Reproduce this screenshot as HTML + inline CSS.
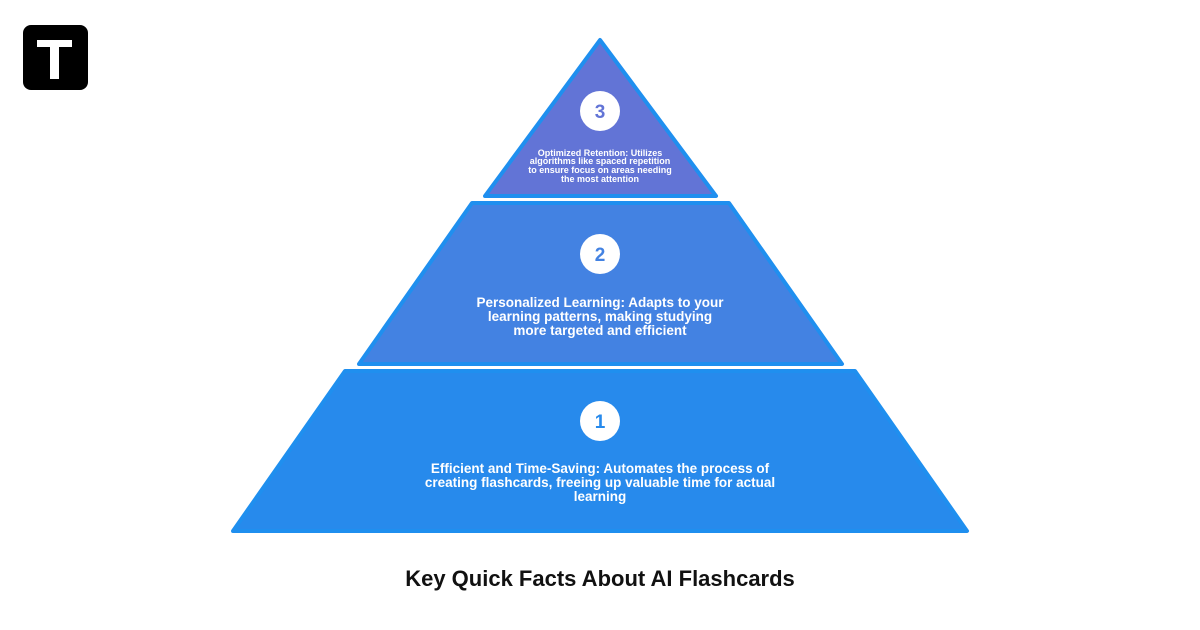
<!DOCTYPE html>
<html><head><style>
body{margin:0;width:1200px;height:630px;background:#fff;overflow:hidden}
svg{display:block}
text{font-family:"Liberation Sans",sans-serif;font-weight:bold}
</style></head><body>
<svg width="1200" height="630" viewBox="0 0 1200 630">
<rect x="23" y="25" width="65" height="65" rx="8" fill="#000"/>
<rect x="37" y="40" width="35" height="7" fill="#fff"/>
<rect x="50" y="47" width="9" height="32" fill="#fff"/>
<g stroke="#1f8fef" stroke-width="4" stroke-linejoin="round">
<polygon points="600,40 716,196 485,196" fill="#6274d6"/>
<polygon points="472,203 729,203 842,364 359,364" fill="#4382e2"/>
<polygon points="345,371 855,371 967,531 233,531" fill="#278aec"/>
</g>
<g fill="#fff"><circle cx="600" cy="111" r="20"/><circle cx="600" cy="254" r="20"/><circle cx="600" cy="421" r="20"/></g>
<g text-anchor="middle">
<text x="600" y="118" font-size="19" fill="#6274d6">3</text>
<text x="600" y="261" font-size="19" fill="#4382e2">2</text>
<text x="600" y="428" font-size="19" fill="#278aec">1</text>
<g fill="#fff" font-size="9">
<text x="600" y="156">Optimized Retention: Utilizes</text>
<text x="600" y="164">algorithms like spaced repetition</text>
<text x="600" y="173">to ensure focus on areas needing</text>
<text x="600" y="182">the most attention</text>
</g>
<g fill="#fff" font-size="13.5">
<text x="600" y="307">Personalized Learning: Adapts to your</text>
<text x="600" y="321">learning patterns, making studying</text>
<text x="600" y="335">more targeted and efficient</text>
<text x="600" y="473">Efficient and Time-Saving: Automates the process of</text>
<text x="600" y="487">creating flashcards, freeing up valuable time for actual</text>
<text x="600" y="501">learning</text>
</g>
<text x="600" y="586" font-size="22" fill="#111">Key Quick Facts About AI Flashcards</text>
</g>
</svg>
</body></html>
